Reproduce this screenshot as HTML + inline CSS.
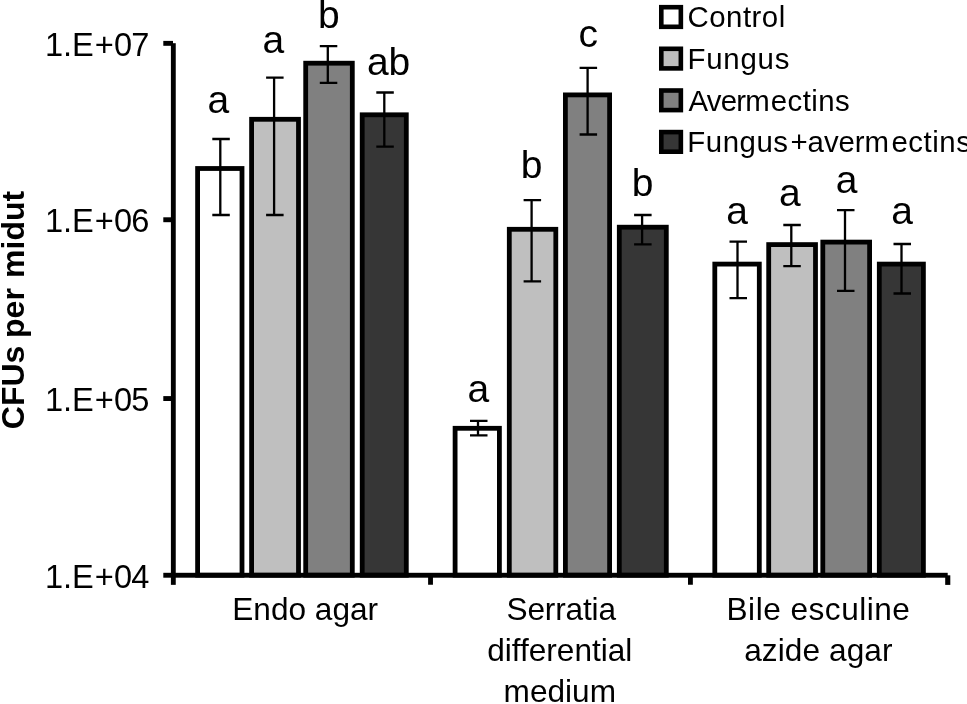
<!DOCTYPE html>
<html><head><meta charset="utf-8"><title>chart</title>
<style>
html,body{margin:0;padding:0;background:#fff;}
body{width:967px;height:704px;overflow:hidden;}
svg{display:block;filter:grayscale(1);}
text{font-family:"Liberation Sans",sans-serif;fill:#000;}
</style></head><body>
<svg width="967" height="704" viewBox="0 0 967 704">
<rect width="967" height="704" fill="#fff"/>
<rect x="197.60" y="168.50" width="44.40" height="406.70" fill="#ffffff" stroke="#000" stroke-width="4.8"/>
<rect x="251.60" y="119.30" width="46.90" height="455.90" fill="#bfbfbf" stroke="#000" stroke-width="4.8"/>
<rect x="305.70" y="63.20" width="46.60" height="512.00" fill="#808080" stroke="#000" stroke-width="4.8"/>
<rect x="362.20" y="114.80" width="44.10" height="460.40" fill="#363636" stroke="#000" stroke-width="4.8"/>
<rect x="455.10" y="428.30" width="44.30" height="146.90" fill="#ffffff" stroke="#000" stroke-width="4.8"/>
<rect x="509.30" y="229.30" width="46.50" height="345.90" fill="#bfbfbf" stroke="#000" stroke-width="4.8"/>
<rect x="565.40" y="94.90" width="44.20" height="480.30" fill="#808080" stroke="#000" stroke-width="4.8"/>
<rect x="619.30" y="227.20" width="47.00" height="348.00" fill="#363636" stroke="#000" stroke-width="4.8"/>
<rect x="714.80" y="264.10" width="44.50" height="311.10" fill="#ffffff" stroke="#000" stroke-width="4.8"/>
<rect x="768.70" y="244.60" width="46.80" height="330.60" fill="#bfbfbf" stroke="#000" stroke-width="4.8"/>
<rect x="822.80" y="242.10" width="46.80" height="333.10" fill="#808080" stroke="#000" stroke-width="4.8"/>
<rect x="879.30" y="264.10" width="44.10" height="311.10" fill="#363636" stroke="#000" stroke-width="4.8"/>
<g fill="#000">
<rect x="170.9" y="43.2" width="4.85" height="541.65"/>
<rect x="163.3" y="572.8" width="784.4" height="4.9"/>
<rect x="163.3" y="40.9" width="9.7" height="4.9"/>
<rect x="163.3" y="217.3" width="9.7" height="4.9"/>
<rect x="163.3" y="396.1" width="9.7" height="4.9"/>
<rect x="428.1" y="575" width="4.85" height="9.75"/>
<rect x="688.0" y="575" width="4.85" height="9.75"/>
<rect x="945.2" y="575.3" width="5.1" height="9.6"/>
</g>
<g stroke="#000" stroke-width="2.3" fill="none">
<path d="M212.3 139H229.8M212.3 215H229.8M220.3 139V215"/>
<path d="M266.1 77.6H283.6M266.1 215H283.6M274.1 77.6V215"/>
<path d="M319.8 46.1H337.3M319.8 82.8H337.3M327.8 46.1V82.8"/>
<path d="M376.3 92.5H393.8M376.3 146.6H393.8M384.3 92.5V146.6"/>
<path d="M470.0 420.8H487.5M470.0 435.4H487.5M478 420.8V435.4"/>
<path d="M523.6 200.2H541.1M523.6 281.3H541.1M531.6 200.2V281.3"/>
<path d="M579.6 67.9H597.1M579.6 134.5H597.1M587.6 67.9V134.5"/>
<path d="M634.1 215.0H651.6M634.1 244.4H651.6M642.1 215.0V244.4"/>
<path d="M729.5 241.7H747.0M729.5 298.1H747.0M737.5 241.7V298.1"/>
<path d="M783.3 225H800.8M783.3 266.2H800.8M791.3 225V266.2"/>
<path d="M837.0 210.2H854.5M837.0 290.9H854.5M845.0 210.2V290.9"/>
<path d="M893.5 244H911.0M893.5 293.5H911.0M901.5 244V293.5"/>
</g>
<text x="218.4" y="112.8" font-size="39" text-anchor="middle">a</text>
<text x="273.4" y="52.6" font-size="39" text-anchor="middle">a</text>
<text x="328.8" y="27.6" font-size="39" text-anchor="middle">b</text>
<text x="388.6" y="74.7" font-size="39" text-anchor="middle">ab</text>
<text x="478.4" y="401.8" font-size="39" text-anchor="middle">a</text>
<text x="531.5" y="178.1" font-size="39" text-anchor="middle">b</text>
<text x="588.2" y="47.4" font-size="39" text-anchor="middle">c</text>
<text x="642.5" y="196" font-size="39" text-anchor="middle">b</text>
<text x="737.2" y="224.0" font-size="39" text-anchor="middle">a</text>
<text x="789.8" y="205.6" font-size="39" text-anchor="middle">a</text>
<text x="846.5" y="193.0" font-size="39" text-anchor="middle">a</text>
<text x="902" y="224.4" font-size="39" text-anchor="middle">a</text>
<text x="44.9" y="56.2" font-size="32.6">1.E<tspan dx="0.9">+</tspan><tspan dx="0.2" letter-spacing="-0.9">07</tspan></text>
<text x="44.9" y="231.8" font-size="32.6">1.E<tspan dx="0.9">+</tspan><tspan dx="0.2" letter-spacing="-0.9">06</tspan></text>
<text x="44.9" y="410.8" font-size="32.6">1.E<tspan dx="0.9">+</tspan><tspan dx="0.2" letter-spacing="-0.9">05</tspan></text>
<text x="44.9" y="587.7" font-size="32.6">1.E<tspan dx="0.9">+</tspan><tspan dx="0.2" letter-spacing="-0.9">04</tspan></text>
<text transform="translate(23.8,310.5) rotate(-90)" font-size="32" font-weight="bold" text-anchor="middle"><tspan dx="0.5">CFUs</tspan><tspan dx="-1.2"> per</tspan><tspan dx="1.4"> midut</tspan></text>
<text x="305.2" y="620" font-size="31.6" text-anchor="middle" letter-spacing="0">Endo agar</text>
<text x="561.2" y="620" font-size="31.6" text-anchor="middle" letter-spacing="-0.15">Serratia</text>
<text x="559.8" y="661.1" font-size="31.6" text-anchor="middle" letter-spacing="0">differential</text>
<text x="559.8" y="702.2" font-size="31.6" text-anchor="middle" letter-spacing="0">medium</text>
<text x="818.5" y="620" font-size="31.6" text-anchor="middle" letter-spacing="0.5">Bile esculine</text>
<text x="818.4" y="661" font-size="31.6" text-anchor="middle" letter-spacing="0.1">azide agar</text>
<rect x="661.3" y="7.20" width="19.55" height="19.6" fill="#ffffff" stroke="#000" stroke-width="4.6"/>
<text x="687.6" y="27.2" font-size="29.4"><tspan letter-spacing="0.48">Control</tspan></text>
<rect x="661.3" y="48.80" width="19.55" height="19.6" fill="#bfbfbf" stroke="#000" stroke-width="4.6"/>
<text x="687.5" y="68.8" font-size="29.4"><tspan letter-spacing="0.78">Fungus</tspan></text>
<rect x="661.3" y="90.50" width="19.55" height="19.6" fill="#808080" stroke="#000" stroke-width="4.6"/>
<text x="688.5" y="110.5" font-size="29.4"><tspan letter-spacing="-0.8">Averm</tspan><tspan dx="1.85" letter-spacing="0.43">ectins</tspan></text>
<rect x="661.3" y="132.10" width="19.55" height="19.6" fill="#363636" stroke="#000" stroke-width="4.6"/>
<text x="687.3" y="152.1" font-size="29.4"><tspan letter-spacing="0.53">Fungus</tspan><tspan dx="2" letter-spacing="-0.07">+averm</tspan><tspan dx="2.5" letter-spacing="0.53">ectins</tspan></text>
</svg>
</body></html>
